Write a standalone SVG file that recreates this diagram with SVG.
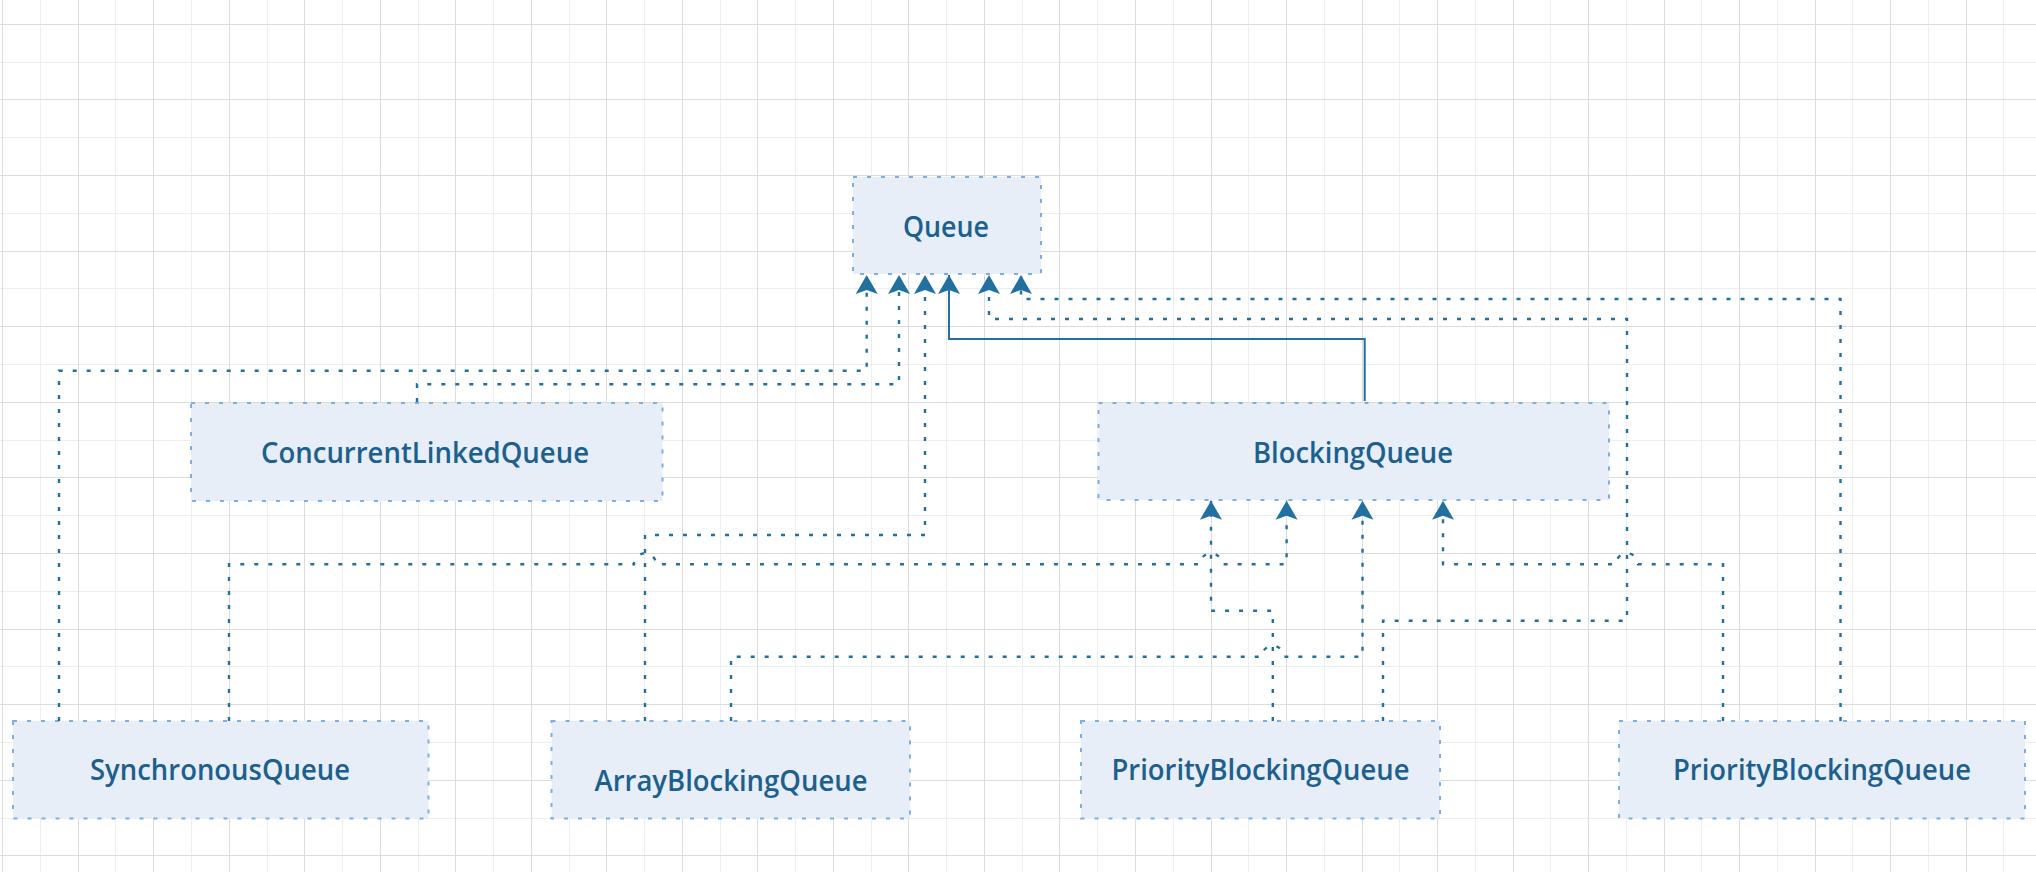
<svg xmlns="http://www.w3.org/2000/svg" width="2036" height="872" viewBox="0 0 2036 872">
<defs>
<style>
.gmaj{stroke:#dcdcdc;stroke-width:1;fill:none}
.gmin{stroke:#eeeeee;stroke-width:1;fill:none}
.box{fill:#e7eef8;stroke:#7eaedf;stroke-width:2;stroke-dasharray:4 10}
.lbl{font-family:"Open Sans","Noto Sans","Liberation Sans",sans-serif;font-size:28.5px;font-weight:600;fill:#1d5f8d;text-anchor:middle}
.dot{fill:none;stroke:#22709f;stroke-width:2.4;stroke-dasharray:4 10}
.solid{fill:none;stroke:#22709f;stroke-width:2}
</style>
<marker id="arr" markerUnits="userSpaceOnUse" markerWidth="22" markerHeight="24" viewBox="-20 -12 21 24" refX="0" refY="0" orient="auto">
<path d="M0,0 L-19,-11 L-15,0 L-19,11 Z" fill="#22709f"/>
</marker>
</defs>
<rect width="2036" height="872" fill="#ffffff"/>
<g id="grid">
<path class="gmin" d="M40.5 0V872M115.5 0V872M191.5 0V872M267.5 0V872M342.5 0V872M418.5 0V872M493.5 0V872M569.5 0V872M644.5 0V872M720.5 0V872M795.5 0V872M871.5 0V872M946.5 0V872M1022.5 0V872M1097.5 0V872M1173.5 0V872M1248.5 0V872M1324.5 0V872M1399.5 0V872M1475.5 0V872M1550.5 0V872M1626.5 0V872M1701.5 0V872M1777.5 0V872M1852.5 0V872M1928.5 0V872M2003.5 0V872M0 62.5H2036M0 137.5H2036M0 213.5H2036M0 288.5H2036M0 364.5H2036M0 440.5H2036M0 515.5H2036M0 591.5H2036M0 666.5H2036M0 742.5H2036M0 818.5H2036"/>
<path class="gmaj" d="M2.5 0V872M78.5 0V872M153.5 0V872M229.5 0V872M304.5 0V872M380.5 0V872M455.5 0V872M531.5 0V872M606.5 0V872M682.5 0V872M757.5 0V872M833.5 0V872M908.5 0V872M984.5 0V872M1059.5 0V872M1135.5 0V872M1211.5 0V872M1286.5 0V872M1362.5 0V872M1437.5 0V872M1513.5 0V872M1588.5 0V872M1664.5 0V872M1739.5 0V872M1815.5 0V872M1890.5 0V872M1966.5 0V872M0 24.5H2036M0 99.5H2036M0 175.5H2036M0 251.5H2036M0 326.5H2036M0 402.5H2036M0 477.5H2036M0 553.5H2036M0 629.5H2036M0 704.5H2036M0 780.5H2036M0 855.5H2036"/>
</g>
<g id="node-queue"><rect class="box" x="853" y="177" width="188" height="97"/><text class="lbl" x="946" y="237" textLength="86" lengthAdjust="spacingAndGlyphs">Queue</text></g>
<g id="node-concurrentlinkedqueue"><rect class="box" x="191" y="403" width="471.5" height="98"/><text class="lbl" x="425" y="462.5" textLength="328" lengthAdjust="spacingAndGlyphs">ConcurrentLinkedQueue</text></g>
<g id="node-blockingqueue"><rect class="box" x="1098.5" y="403" width="510.5" height="97"/><text class="lbl" x="1353" y="463" textLength="200" lengthAdjust="spacingAndGlyphs">BlockingQueue</text></g>
<g id="node-synchronousqueue"><rect class="box" x="13" y="721" width="415.5" height="97.5"/><text class="lbl" x="220" y="780" textLength="260" lengthAdjust="spacingAndGlyphs">SynchronousQueue</text></g>
<g id="node-arrayblockingqueue"><rect class="box" x="551.5" y="721" width="358.5" height="97.5"/><text class="lbl" x="731" y="791" textLength="273" lengthAdjust="spacingAndGlyphs">ArrayBlockingQueue</text></g>
<g id="node-priorityblockingqueue-1"><rect class="box" x="1081" y="721" width="359" height="97.5"/><text class="lbl" x="1260.5" y="780" textLength="298" lengthAdjust="spacingAndGlyphs">PriorityBlockingQueue</text></g>
<g id="node-priorityblockingqueue-2"><rect class="box" x="1619" y="721" width="406" height="97.5"/><text class="lbl" x="1822" y="780" textLength="298" lengthAdjust="spacingAndGlyphs">PriorityBlockingQueue</text></g>
<g id="connectors">
<path class="dot" marker-end="url(#arr)" d="M59 721V370.7H866.7V275"/>
<path class="dot" marker-end="url(#arr)" d="M417 402V384.3H899V275"/>
<path class="dot" marker-end="url(#arr)" d="M645 721V535H925V275"/>
<path class="solid" marker-end="url(#arr)" d="M1364.7 401V339H949V275"/>
<path class="dot" marker-end="url(#arr)" d="M1383 721V620.7H1627V319H989V275"/>
<path class="dot" marker-end="url(#arr)" d="M1840.5 721V299H1021V275"/>
<path class="dot" marker-end="url(#arr)" d="M1272.8 721V610.7H1211V500.7"/>
<path class="dot" marker-end="url(#arr)" d="M229 721V564.3H634A11 11 0 0 1 656 564.3H1200A11 11 0 0 1 1222 564.3H1286.6V500.7"/>
<path class="dot" marker-end="url(#arr)" d="M731 721V656.7H1261.8A11 11 0 0 1 1283.8 656.7H1362.5V500.7"/>
<path class="dot" marker-end="url(#arr)" d="M1723 721V564.3H1638A11 11 0 0 0 1616 564.3H1443V500.7"/>
</g>
</svg>
